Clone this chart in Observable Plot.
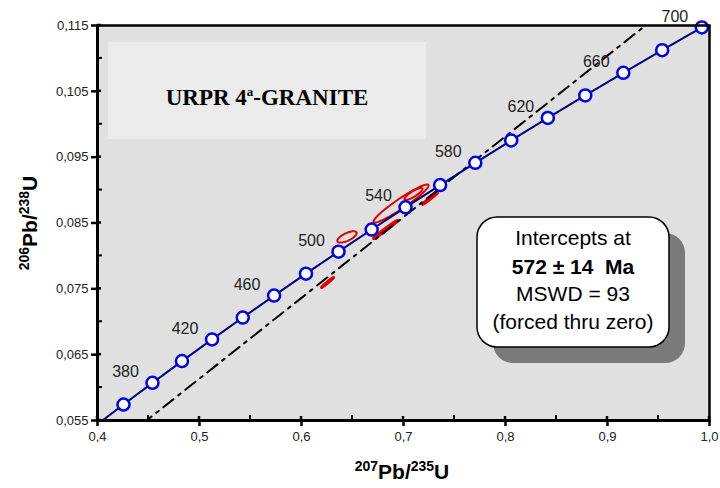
<!DOCTYPE html>
<html><head><meta charset="utf-8">
<script src="https://cdn.jsdelivr.net/npm/d3@7"></script>
<script src="https://cdn.jsdelivr.net/npm/@observablehq/plot@0.6"></script>
<style>
body{margin:0;background:#fff;}
#chart{position:relative;width:720px;height:488px;}
</style></head><body><div id="chart"></div>
<script>
// ---- data ----
const ages = [360,380,400,420,440,460,480,500,520,540,560,580,600,620,640,660,680,700];
const concordiaX = [0.4255,0.4539,0.4828,0.5123,0.5424,0.5731,0.6044,0.6363,0.6688,0.7020,0.7359,0.7704,0.8056,0.8415,0.8782,0.9155,0.9536,0.9925];
const concordiaY = [0.05743,0.06072,0.06402,0.06732,0.07064,0.07397,0.07730,0.08065,0.08401,0.08738,0.09076,0.09414,0.09754,0.10096,0.10438,0.10781,0.11125,0.11470];
const concordiaStartX = [0.3977];   // curve continues off the lower-left corner
const concordiaStartY = [0.05416];
const labelAges = [380,420,460,500,540,580,620,660,700];
const discordiaX = [0.40, 1.00];
const discordiaY = [0.0491, 0.1227];
// open error ellipses: centre, half-width, half-height, correlation
const openX = [0.6976, 0.7098, 0.6446];
const openY = [0.08796, 0.08941, 0.08288];
const openSX = [0.0270, 0.0088, 0.0095];
const openSY = [0.00289, 0.00091, 0.00086];
const openRho = [0.95, 0.85, 0.68];
// thin (filled) error ellipses
const bandX = [0.6824, 0.7260, 0.6255];
const bandY = [0.08401, 0.08872, 0.07596];
const bandSX = [0.0118, 0.0074, 0.0059];
const bandSY = [0.00137, 0.00090, 0.00076];
const bandRho = [0.99, 0.99, 0.99];
const xTicks = [0.4,0.5,0.6,0.7,0.8,0.9,1.0];
const xMinor = [0.45,0.55,0.65,0.75,0.85,0.95];
const yTicks = [0.055,0.065,0.075,0.085,0.095,0.105,0.115];
const yMinor = [0.06,0.07,0.08,0.09,0.10,0.11];
const titleMain = "URPR 4";
const titleSup = "a";
const titleRest = "-GRANITE";
const infoLines = ["Intercepts at", "572 ± 14  Ma", "MSWD = 93", "(forced thru zero)"];

// ---- build tables ----
const concordia = ages.map((a,i)=>({age:a, x:concordiaX[i], y:concordiaY[i]}));
const concordiaLine = concordiaStartX.map((x,i)=>({x, y:concordiaStartY[i]})).concat(concordia);
const labels = concordia.filter(d => labelAges.includes(d.age));
const discordia = discordiaX.map((x,i)=>({x, y:discordiaY[i]}));
function ellipse(cx, cy, sx, sy, r, id){
  const pts = [];
  for (let i = 0; i <= 96; i++) {
    const t = i/96*2*Math.PI;
    pts.push({id, x: cx + sx*Math.cos(t), y: cy + sy*(r*Math.cos(t) + Math.sqrt(1-r*r)*Math.sin(t))});
  }
  return pts;
}
const openPts = openX.flatMap((x,i)=>ellipse(x, openY[i], openSX[i], openSY[i], openRho[i], "o"+i));
const bandPts = bandX.flatMap((x,i)=>ellipse(x, bandY[i], bandSX[i], bandSY[i], bandRho[i], "b"+i));

const titleBox = (index, scales, values, dims) => {
  const g = d3.create("svg:g");
  g.append("rect").attr("x", 108).attr("y", 42).attr("width", 318).attr("height", 97).attr("fill", "#ebebeb");
  const t = g.append("text").attr("x", 267).attr("y", 105).attr("text-anchor", "middle")
    .attr("font-family", "'Liberation Serif','Times New Roman',serif").attr("font-weight", "bold")
    .attr("font-size", 23).attr("fill", "#000");
  t.append("tspan").text(titleMain);
  t.append("tspan").attr("font-size", 13).attr("dy", -9).text(titleSup);
  t.append("tspan").attr("dy", 9).text(titleRest);
  return g.node();
};

const chart = Plot.plot({
  width: 720, height: 488,
  marginLeft: 97, marginRight: 11, marginTop: 25, marginBottom: 68,
  x: {domain: [0.4, 1.0]},
  y: {domain: [0.055, 0.115]},
  style: {fontFamily: "'Liberation Sans', Arial, sans-serif", background: "white"},
  marks: [
    Plot.frame({fill: "#e0e0e0", stroke: null}),
    titleBox,
    Plot.line(openPts, {x: "x", y: "y", z: "id", stroke: "#e00000", strokeWidth: 2, clip: true}),
    Plot.line(bandPts, {x: "x", y: "y", z: "id", stroke: "#e00000", fill: "#e00000", strokeWidth: 3, clip: true}),
    Plot.line(discordia, {x: "x", y: "y", stroke: "#000", strokeWidth: 2, strokeDasharray: "13,6,3,6", clip: true}),
    Plot.line(concordiaLine, {x: "x", y: "y", stroke: "#00007a", strokeWidth: 2, clip: true}),
    Plot.dot(concordia, {x: "x", y: "y", r: 6, fill: "white", stroke: "#0000e6", strokeWidth: 2.5}),
    Plot.text(labels, {x: "x", y: "y", text: d => String(d.age), dx: -27, dy: -11, fontSize: 16, fill: "#222"}),
    Plot.frame({stroke: "#000", strokeWidth: 2.5}),
    Plot.ruleX([0.4], {stroke: "#000", strokeWidth: 3}),
    Plot.ruleY([0.055], {stroke: "#000", strokeWidth: 3}),
    Plot.axisX(xTicks, {tickSize: 6, tickPadding: 5, fontSize: 13, fill: "#222", tickFormat: d => d.toFixed(1).replace(".", ","), label: null, strokeWidth: 2.5}),
    Plot.axisY(yTicks, {tickSize: 6, tickPadding: 3, fontSize: 13, fill: "#222", tickFormat: d => d.toFixed(3).replace(".", ","), label: null, strokeWidth: 2.5})
  ]
});
document.getElementById("chart").appendChild(chart);

const svg = d3.select(chart);
const X = v => chart.scale("x").apply(v);
const Y = v => chart.scale("y").apply(v);
const ticks = svg.append("g").attr("stroke", "#000");
xTicks.forEach(v => ticks.append("line").attr("x1", X(v)).attr("x2", X(v)).attr("y1", Y(0.055)).attr("y2", Y(0.055)-4).attr("stroke-width", 2.5));
yTicks.forEach(v => ticks.append("line").attr("y1", Y(v)).attr("y2", Y(v)).attr("x1", X(0.4)).attr("x2", X(0.4)+4).attr("stroke-width", 2.5));
xMinor.forEach(v => ticks.append("line").attr("x1", X(v)).attr("x2", X(v)).attr("y1", Y(0.055)).attr("y2", Y(0.055)-5).attr("stroke-width", 2));
yMinor.forEach(v => ticks.append("line").attr("y1", Y(v)).attr("y2", Y(v)).attr("x1", X(0.4)).attr("x2", X(0.4)+5).attr("stroke-width", 2));

// axis titles
const xl = svg.append("text").attr("x", 402).attr("y", 479).attr("text-anchor", "middle")
  .attr("font-family", "'Liberation Sans', Arial, sans-serif").attr("font-weight", "bold").attr("font-size", 21).attr("fill", "#000");
xl.append("tspan").attr("font-size", 14).attr("dy", -8).text("207");
xl.append("tspan").attr("dy", 8).text("Pb/");
xl.append("tspan").attr("font-size", 14).attr("dy", -8).text("235");
xl.append("tspan").attr("dy", 8).text("U");
const yl = svg.append("text").attr("transform", "translate(37,223) rotate(-90)").attr("text-anchor", "middle")
  .attr("font-family", "'Liberation Sans', Arial, sans-serif").attr("font-weight", "bold").attr("font-size", 21).attr("fill", "#000");
yl.append("tspan").attr("font-size", 14).attr("dy", -8).text("206");
yl.append("tspan").attr("dy", 8).text("Pb/");
yl.append("tspan").attr("font-size", 14).attr("dy", -8).text("238");
yl.append("tspan").attr("dy", 8).text("U");

// results box
const box = svg.append("g");
box.append("rect").attr("x", 493).attr("y", 233).attr("width", 192).attr("height", 130).attr("rx", 20).attr("fill", "#7a7a7a");
box.append("rect").attr("x", 477).attr("y", 217).attr("width", 192).attr("height", 130).attr("rx", 20)
  .attr("fill", "#fff").attr("stroke", "#000").attr("stroke-width", 1.5);
const baselines = [245, 274, 301, 329];
infoLines.forEach((s, i) => box.append("text").attr("x", 573).attr("y", baselines[i]).attr("text-anchor", "middle")
  .attr("font-family", "'Liberation Sans', Arial, sans-serif").attr("font-size", 21)
  .attr("font-weight", i === 1 ? "bold" : "normal").attr("fill", "#000").style("white-space", "pre").text(s));
</script></body></html>
